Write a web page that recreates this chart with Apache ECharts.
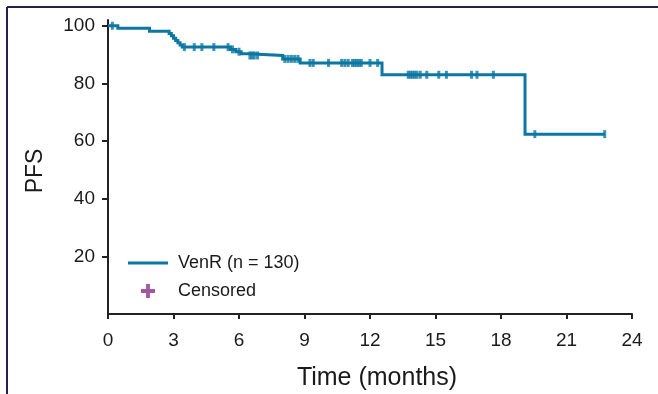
<!DOCTYPE html>
<html>
<head>
<meta charset="utf-8">
<script src="https://cdn.jsdelivr.net/npm/echarts@6/dist/echarts.min.js"></script>
<style>
  html, body { margin: 0; padding: 0; background: #fff; }
  #chart { width: 658px; height: 394px; }
</style>
</head>
<body>
<div id="chart"></div>
<script>
// Kaplan-Meier progression-free survival, VenR arm
const seriesName = 'VenR (n = 130)';
const censorName = 'Censored';

// Step curve: each value holds from its time until the next event time
const eventTimes  = [0, 0.45, 1.9, 2.8, 2.9, 3.0, 3.1, 3.2, 3.3, 3.4, 5.6, 5.85, 6.1, 6.4, 8.0, 8.8, 12.55, 19.1];
const eventValues = [100, 99.1, 98.1, 97.3, 96.5, 95.7, 94.9, 94.1, 93.3, 92.6, 91.8, 91.0, 90.3, 89.7, 88.5, 87.1, 83.0, 62.4];
const lastFollowUp = 22.75;

// Censoring times (months)
const censorTimes = [0.2, 3.5, 3.95, 4.3, 4.85, 5.5, 5.7, 6.0, 6.5, 6.6, 6.7, 6.85,
  8.1, 8.25, 8.4, 8.55, 8.7, 9.25, 9.4, 10.1, 10.7, 10.85, 11.0, 11.2, 11.3, 11.4, 11.5, 11.6,
  12.0, 12.35, 13.75, 13.85, 13.95, 14.05, 14.15, 14.3, 14.6, 15.15, 15.5, 16.65, 16.9, 17.65,
  19.55, 22.75];

const xTicks = [0, 3, 6, 9, 12, 15, 18, 21, 24];
const yTicks = [20, 40, 60, 80, 100];

const curveColor = '#0b77a3';
const censorLegendColor = '#8b2e8b';
const textColor = '#1a1a1a';

// survival estimate at time t from the step curve
function survivalAt(t) {
  let v = eventValues[0];
  for (let i = 0; i < eventTimes.length; i++) {
    if (eventTimes[i] <= t) v = eventValues[i];
  }
  return v;
}

// expand events into step vertices: hold level, then drop at next event
const curveData = [];
eventTimes.forEach((t, i) => {
  if (i > 0) curveData.push([t, eventValues[i - 1]]);
  curveData.push([t, eventValues[i]]);
});
curveData.push([lastFollowUp, eventValues[eventValues.length - 1]]);
const censorData = censorTimes.map(t => [t, survivalAt(t)]);

const chart = echarts.init(document.getElementById('chart'), null, { renderer: 'canvas' });

chart.setOption({
  animation: false,
  backgroundColor: '#ffffff',
  grid: { left: 108, right: 26, top: 20, bottom: 80, containLabel: false, outerBoundsMode: 'none' },
  legend: {
    orient: 'vertical',
    left: 123,
    top: 249,
    itemWidth: 40,
    itemHeight: 14,
    itemGap: 10,
    selectedMode: false,
    textStyle: { fontFamily: 'Liberation Sans, Arial, sans-serif', fontSize: 18, color: textColor, padding: [0, 0, 0, 5] },
    data: [
      { name: seriesName, icon: 'path://M0,0H40V3H0Z' },
      { name: censorName, icon: 'path://M4,0H7V4H11V7H7V11H4V7H0V4H4Z' }
    ]
  },
  xAxis: {
    type: 'value',
    min: 0,
    max: 24,
    interval: 3,
    splitLine: { show: false },
    axisLine: { show: true, onZero: false, lineStyle: { color: '#222', width: 2 } },
    axisTick: { show: true, length: 5, lineStyle: { color: '#222', width: 2 } },
    axisLabel: {
      margin: 17,
      fontFamily: 'Liberation Sans Narrow, Liberation Sans, Arial, sans-serif',
      fontSize: 19,
      color: textColor,
      customValues: xTicks
    },
    name: 'Time (months)',
    nameLocation: 'middle',
    nameGap: 52,
    nameTextStyle: {
      fontFamily: 'Liberation Sans Narrow, Liberation Sans, Arial, sans-serif',
      fontSize: 25,
      color: textColor,
      padding: [0, 0, 0, 14]
    }
  },
  yAxis: {
    type: 'value',
    min: 0,
    max: 102,
    splitLine: { show: false },
    axisLine: { show: true, lineStyle: { color: '#222', width: 2 } },
    axisTick: { show: true, length: 6, lineStyle: { color: '#222', width: 2 }, customValues: yTicks },
    axisLabel: {
      margin: 13,
      fontFamily: 'Liberation Sans, Arial, sans-serif',
      fontSize: 19,
      color: textColor,
      customValues: yTicks
    },
    name: 'PFS',
    nameLocation: 'middle',
    nameGap: 61,
    nameRotate: 90,
    nameTextStyle: {
      fontFamily: 'Liberation Sans, Arial, sans-serif',
      fontSize: 23,
      color: textColor,
      padding: [0, 8, 0, 0]
    }
  },
  series: [
    {
      name: seriesName,
      type: 'line',
      data: curveData,
      showSymbol: false,
      symbol: 'none',
      color: curveColor,
      lineStyle: { color: curveColor, width: 3, join: 'miter' },
      z: 2
    },
    {
      name: 'censor-marks',
      type: 'scatter',
      data: censorData,
      symbol: 'rect',
      symbolSize: [3, 8],
      itemStyle: { color: curveColor },
      z: 3
    },
    {
      name: censorName,
      type: 'scatter',
      data: [],
      color: censorLegendColor,
      itemStyle: { color: censorLegendColor }
    }
  ],
  graphic: [
    // outer panel border (top and left edges)
    { type: 'line', shape: { x1: 7, y1: 7, x2: 658, y2: 7 }, style: { stroke: '#22214f', lineWidth: 2 } },
    { type: 'line', shape: { x1: 7, y1: 7, x2: 7, y2: 394 }, style: { stroke: '#22214f', lineWidth: 2 } }
  ]
});
</script>
</body>
</html>
